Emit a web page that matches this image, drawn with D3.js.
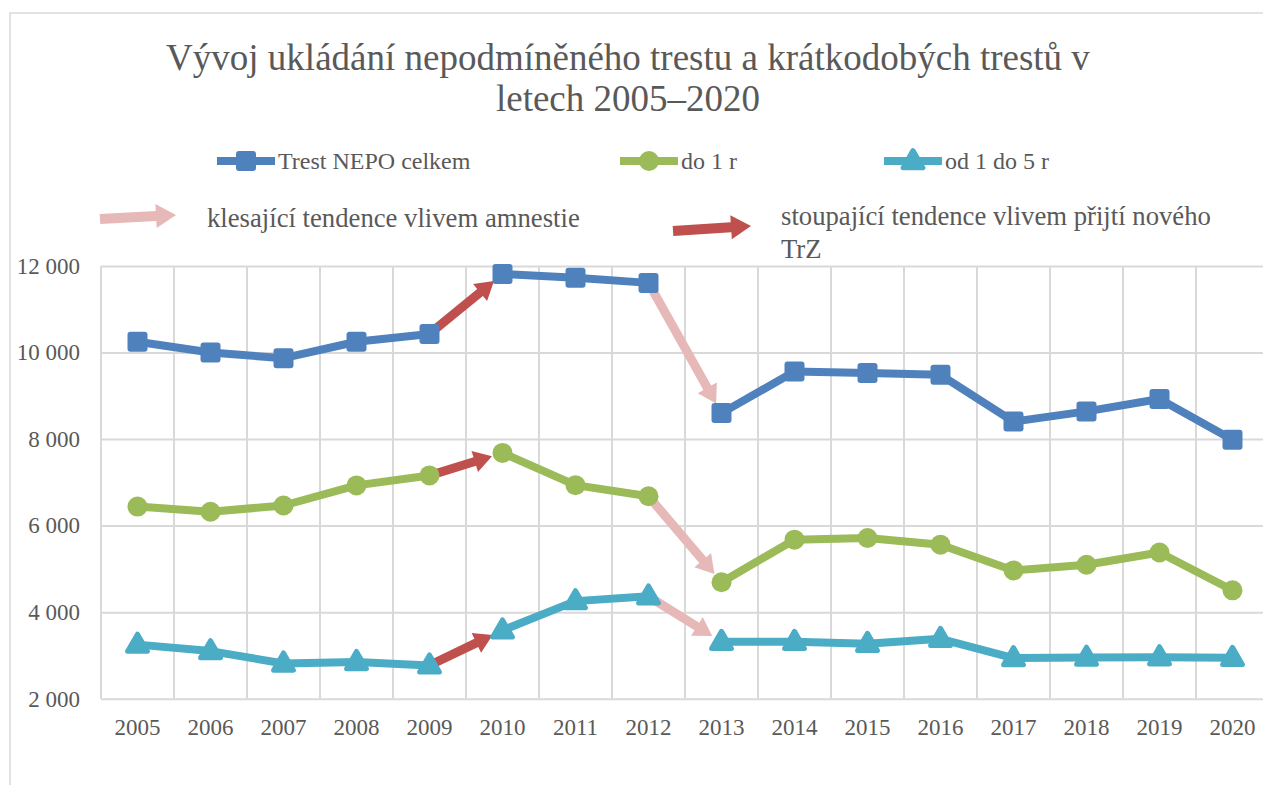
<!DOCTYPE html>
<html>
<head>
<meta charset="utf-8">
<script src="https://cdn.jsdelivr.net/npm/d3@7"></script>
<style>
  body { margin: 0; background: #fff; }
  svg text { font-family: "Liberation Serif", "Times New Roman", serif; fill: #595959; }
</style>
</head>
<body>
<svg id="chart" width="1263" height="785"></svg>
<script>
// data
var years = ["2005","2006","2007","2008","2009","2010","2011","2012",
             "2013","2014","2015","2016","2017","2018","2019","2020"];
var trestCelkem = [10250, 10000, 9870, 10250, 10430, 11815, 11730, 11610,
                   8600, 9560, 9525, 9485, 8405, 8640, 8925, 7985];
var do1r = [6440, 6320, 6465, 6930, 7160, 7680, 6935, 6680,
            4690, 5675, 5715, 5560, 4965, 5095, 5380, 4505];
var od1do5r = [3250, 3100, 2815, 2850, 2770, 3580, 4255, 4365,
               3315, 3315, 3270, 3385, 2940, 2950, 2960, 2945];
var yTicks = [2000, 4000, 6000, 8000, 10000, 12000];
var seriesNames = ["Trest NEPO celkem", "do 1 r", "od 1 do 5 r"];
var risingPair = ["2009", "2010"];   // stoupající tendence
var fallingPair = ["2012", "2013"];  // klesající tendence

var colors = ["#4F81BD", "#9BBB59", "#4BACC6"];
var shapes = ["square", "circle", "triangle"];
var arrowRed = "#C0504D", arrowPink = "#E6B9B8";

var svg = d3.select("#chart");

// frame
svg.append("path")
    .attr("d", "M10,785V13H1263")
    .attr("fill", "none")
    .attr("stroke", "#D9D9D9")
    .attr("stroke-width", 1.5);

var x = d3.scaleBand().domain(years).range([101, 1269]);
var y = d3.scaleLinear().domain([2000, 12000]).range([698.7, 266]);

var fmt = d3.formatLocale({decimal: ",", thousands: " ", grouping: [3], currency: ["", ""]}).format(",");

// horizontal grid + y labels
var yAxis = svg.append("g")
    .attr("transform", "translate(101,0)")
    .call(d3.axisLeft(y).tickValues(yTicks).tickSize(-1168).tickFormat(fmt));
yAxis.select(".domain").remove();
yAxis.selectAll(".tick line").attr("stroke", "#D9D9D9").attr("stroke-width", 2);
yAxis.selectAll(".tick text")
    .attr("x", -21)
    .attr("dy", "0.32em")
    .style("font-size", "23px");

// vertical grid at category boundaries
svg.append("g").selectAll("line")
    .data(years.concat(["end"]))
    .join("line")
    .attr("x1", function(d){ return d === "end" ? 1269 : x(d); })
    .attr("x2", function(d){ return d === "end" ? 1269 : x(d); })
    .attr("y1", y(12000))
    .attr("y2", y(2000))
    .attr("stroke", "#D9D9D9")
    .attr("stroke-width", 2);

// x labels
var xAxis = svg.append("g")
    .attr("transform", "translate(0," + y(2000) + ")")
    .call(d3.axisBottom(x).tickSize(0));
xAxis.select(".domain").remove();
xAxis.selectAll(".tick text")
    .attr("y", 0)
    .attr("dy", "36px")
    .style("font-size", "23px");

// title
var title = svg.append("text")
    .attr("text-anchor", "middle")
    .style("font-size", "37px");
title.append("tspan").attr("x", 628).attr("y", 70)
    .text("Vývoj ukládání nepodmíněného trestu a krátkodobých trestů v");
title.append("tspan").attr("x", 628).attr("y", 111)
    .text("letech 2005–2020");

function arrowPath(x0, y0, x1, y1, shaft, headW, headL){
    var dx = x1 - x0, dy = y1 - y0, len = Math.sqrt(dx*dx + dy*dy);
    var ux = dx/len, uy = dy/len, px = -uy, py = ux;
    var bx = x1 - ux*headL, by = y1 - uy*headL;
    var pts = [
        [x0 + px*shaft/2, y0 + py*shaft/2],
        [bx + px*shaft/2, by + py*shaft/2],
        [bx + px*headW/2, by + py*headW/2],
        [x1, y1],
        [bx - px*headW/2, by - py*headW/2],
        [bx - px*shaft/2, by - py*shaft/2],
        [x0 - px*shaft/2, y0 - py*shaft/2]
    ];
    return "M" + pts.map(function(p){ return p[0].toFixed(1) + "," + p[1].toFixed(1); }).join("L") + "Z";
}

function drawMarker(g, shape, color, cx, cy, size){
    if (shape === "square") {
        g.append("rect")
            .attr("x", cx - size/2).attr("y", cy - size/2)
            .attr("width", size).attr("height", size)
            .attr("rx", 3).attr("fill", color);
    } else if (shape === "circle") {
        g.append("circle").attr("cx", cx).attr("cy", cy).attr("r", size/2).attr("fill", color);
    } else {
        g.append("path")
            .attr("d", d3.symbol(d3.symbolTriangle, 170)())
            .attr("transform", "translate(" + cx + "," + (cy + 1) + ")")
            .attr("fill", color)
            .attr("stroke", color)
            .attr("stroke-width", 5)
            .attr("stroke-linejoin", "round");
    }
}

var allSeries = [trestCelkem, do1r, od1do5r];
var cx = function(i){ return x(years[i]) + x.bandwidth()/2; };
var line = d3.line();

allSeries.forEach(function(values, s){
    var g = svg.append("g");
    // line segments, skipping the ones replaced by arrows
    var segs = [];
    for (var i = 0; i < values.length - 1; i++) {
        if (years[i] === risingPair[0] || years[i] === fallingPair[0]) continue;
        segs.push([[cx(i), y(values[i])], [cx(i+1), y(values[i+1])]]);
    }
    g.selectAll("path.seg").data(segs).join("path")
        .attr("class", "seg")
        .attr("d", line)
        .attr("fill", "none")
        .attr("stroke", colors[s])
        .attr("stroke-width", 8)
        .attr("stroke-linecap", "round");

    [[risingPair, arrowRed], [fallingPair, arrowPink]].forEach(function(a){
        var i0 = years.indexOf(a[0][0]), i1 = years.indexOf(a[0][1]);
        var x0 = cx(i0), y0 = y(values[i0]), x1 = cx(i1), y1 = y(values[i1]);
        var dx = x1 - x0, dy = y1 - y0, len = Math.sqrt(dx*dx + dy*dy);
        g.append("path")
            .attr("d", arrowPath(x0 + dx/len*6, y0 + dy/len*6, x1 - dx/len*11, y1 - dy/len*11, 9, 22, 18))
            .attr("fill", a[1]);
    });

    values.forEach(function(v, i){
        drawMarker(g, shapes[s], colors[s], cx(i), y(v), 20);
    });
});

// legend
var legendX = [217, 620, 884];
seriesNames.forEach(function(name, s){
    var g = svg.append("g");
    g.append("line")
        .attr("x1", legendX[s]).attr("x2", legendX[s] + 58)
        .attr("y1", 161).attr("y2", 161)
        .attr("stroke", colors[s]).attr("stroke-width", 8);
    drawMarker(g, shapes[s], colors[s], legendX[s] + 29, 161, 20);
    g.append("text")
        .attr("x", legendX[s] + 61).attr("y", 169)
        .style("font-size", "24px")
        .text(name);
});

svg.append("path").attr("d", arrowPath(100, 219, 176, 215, 10, 24, 20)).attr("fill", arrowPink);
svg.append("text").attr("x", 207).attr("y", 227).style("font-size", "26.7px")
    .text("klesající tendence vlivem amnestie");
svg.append("path").attr("d", arrowPath(673, 231, 751, 226, 10, 24, 20)).attr("fill", arrowRed);
var t2 = svg.append("text").style("font-size", "26.7px");
t2.append("tspan").attr("x", 781).attr("y", 225).text("stoupající tendence vlivem přijtí nového");
t2.append("tspan").attr("x", 781).attr("y", 258).text("TrZ");
</script>
</body>
</html>
